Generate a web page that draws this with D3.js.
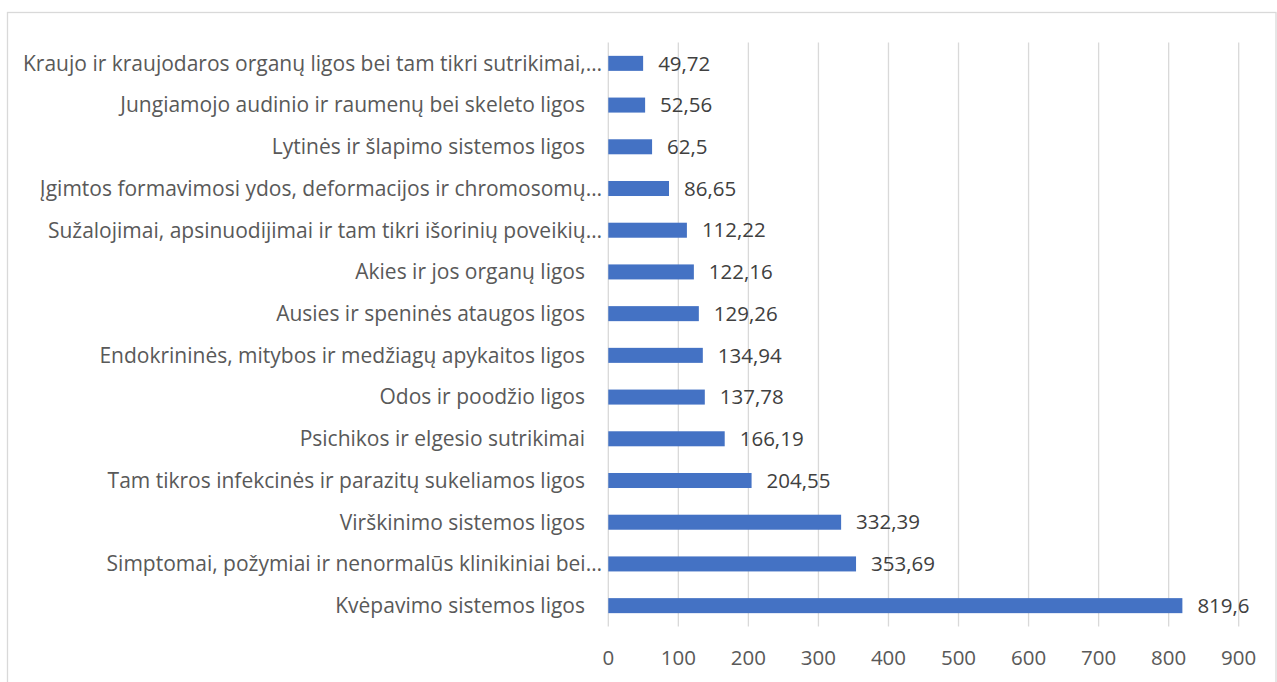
<!DOCTYPE html>
<html><head><meta charset="utf-8">
<script src="https://cdn.jsdelivr.net/npm/d3@7/dist/d3.min.js"></script>
<style>
html,body{margin:0;padding:0;background:#fff;}
svg{display:block;}
text{font-family:"Open Sans","Noto Sans",sans-serif;fill:#595959;}
</style></head>
<body>
<svg id="chart" width="1277" height="682"></svg>
<script>
const categories = [
  "Kraujo ir kraujodaros organų ligos bei tam tikri sutrikimai,…",
  "Jungiamojo audinio ir raumenų bei skeleto ligos",
  "Lytinės ir šlapimo sistemos ligos",
  "Įgimtos formavimosi ydos, deformacijos ir chromosomų…",
  "Sužalojimai, apsinuodijimai ir tam tikri išorinių poveikių…",
  "Akies ir jos organų ligos",
  "Ausies ir speninės ataugos ligos",
  "Endokrininės, mitybos ir medžiagų apykaitos ligos",
  "Odos ir poodžio ligos",
  "Psichikos ir elgesio sutrikimai",
  "Tam tikros infekcinės ir parazitų sukeliamos ligos",
  "Virškinimo sistemos ligos",
  "Simptomai, požymiai ir nenormalūs klinikiniai bei…",
  "Kvėpavimo sistemos ligos"
];
const values = [49.72, 52.56, 62.5, 86.65, 112.22, 122.16, 129.26, 134.94, 137.78, 166.19, 204.55, 332.39, 353.69, 819.6];
const valueLabels = ["49,72","52,56","62,5","86,65","112,22","122,16","129,26","134,94","137,78","166,19","204,55","332,39","353,69","819,6"];
const xTicks = [0,100,200,300,400,500,600,700,800,900];

const svg = d3.select("#chart");
const x = d3.scaleLinear().domain([0, 900]).range([608.3, 1238.7]);
const y = d3.scaleBand().domain(categories).range([42.5, 626.5]).paddingInner(0.64).paddingOuter(0.32);

// frame
svg.append("rect").attr("x", 7.5).attr("y", 12.5).attr("width", 1268.5).attr("height", 700)
  .attr("fill", "none").attr("stroke", "#d9d9d9").attr("stroke-width", 1.3);

// gridlines
svg.append("g").selectAll("line").data(xTicks).join("line")
  .attr("x1", d => x(d)).attr("x2", d => x(d))
  .attr("y1", 42.5).attr("y2", 626.5)
  .attr("stroke", "#d9d9d9").attr("stroke-width", 1.3);

// x tick labels
svg.append("g").selectAll("text").data(xTicks).join("text")
  .attr("x", d => x(d)).attr("y", 658).attr("dy", "0.35em")
  .attr("text-anchor", "middle").attr("font-size", 20.5)
  .text(d => d);

// bars
svg.append("g").selectAll("rect").data(values).join("rect")
  .attr("x", x(0)).attr("y", (d, i) => y(categories[i]))
  .attr("width", d => x(d) - x(0)).attr("height", y.bandwidth())
  .attr("fill", "#4472C4");

// value labels
svg.append("g").selectAll("text").data(values).join("text")
  .attr("x", d => x(d) + 15).attr("y", (d, i) => y(categories[i]) + y.bandwidth() / 2)
  .attr("dy", "0.35em").attr("font-size", 20.5).style("fill", "#404040")
  .text((d, i) => valueLabels[i]);

// category labels
svg.append("g").selectAll("text").data(categories).join("text")
  .attr("x", d => d.endsWith("…") ? 602 : 585)
  .attr("y", d => y(d) + y.bandwidth() / 2)
  .attr("dy", "0.35em").attr("text-anchor", "end").attr("font-size", 21)
  .text(d => d);
</script>
</body></html>
